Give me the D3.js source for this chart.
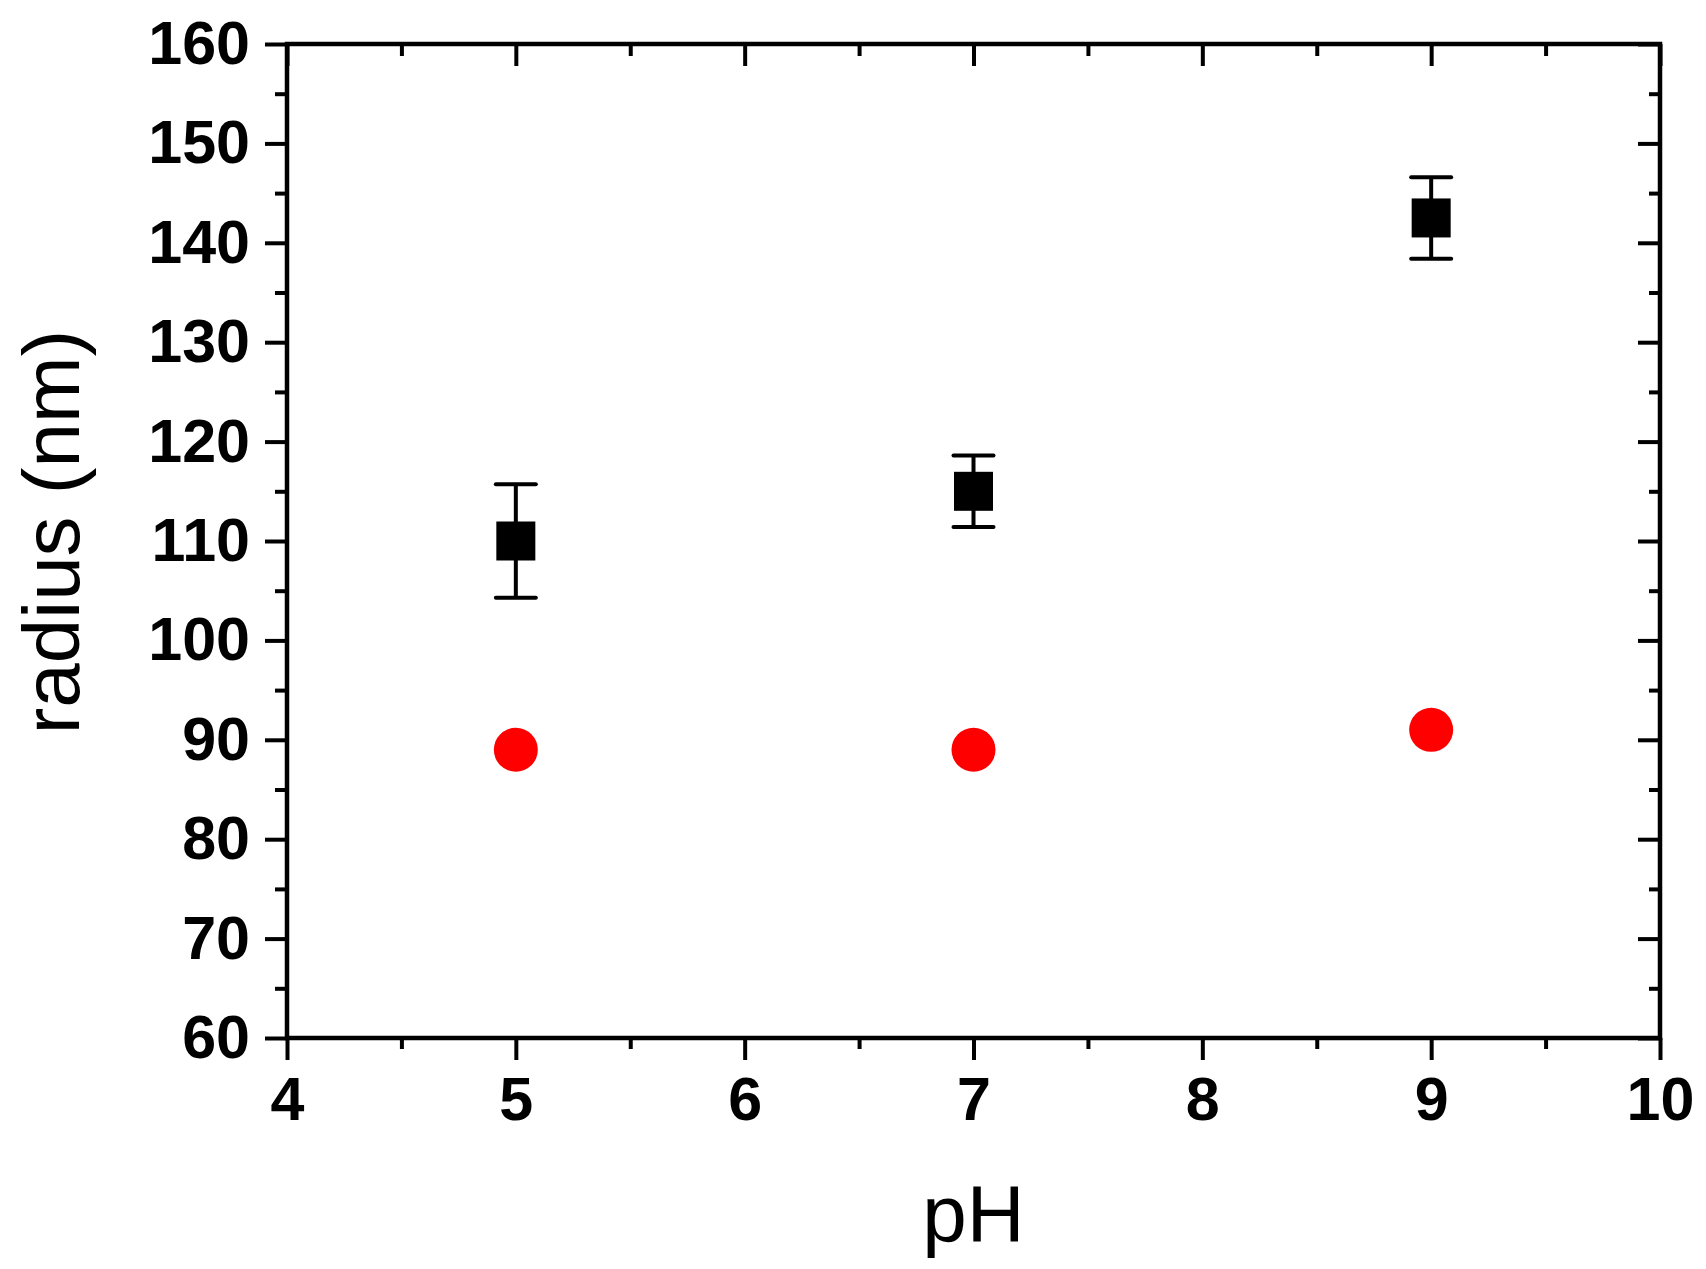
<!DOCTYPE html>
<html>
<head>
<meta charset="utf-8">
<script src="https://cdn.jsdelivr.net/npm/d3@7"></script>
<style>
  body { margin: 0; background: #fff; }
  svg { display: block; }
  .axis text { font-family: Arial, "Liberation Sans", sans-serif; font-weight: bold; font-size: 61px; fill: #000; }
  .axis line { stroke: #000; stroke-width: 4; }
  .axis path { display: none; }
  .title { font-family: Arial, "Liberation Sans", sans-serif; font-size: 80px; fill: #000; }
</style>
</head>
<body>
<div id="chart"></div>
<script>
// data
var ph = [5, 7, 9];
var radiusBlack = [110, 115, 142.5];
var errBlack = [5.7, 3.6, 4.1];
var radiusRed = [89, 89, 91];
var xTicks = [4, 5, 6, 7, 8, 9, 10];
var xMinor = [4.5, 5.5, 6.5, 7.5, 8.5, 9.5];
var yTicks = [60, 70, 80, 90, 100, 110, 120, 130, 140, 150, 160];
var yMinor = [65, 75, 85, 95, 105, 115, 125, 135, 145, 155];

var W = 1706, H = 1269;
var pL = 287, pR = 1660, pT = 44, pB = 1038;

var x = d3.scaleLinear().domain([4, 10]).range([pL, pR]);
var y = d3.scaleLinear().domain([60, 160]).range([pB, pT]);

var svg = d3.select("#chart").append("svg")
    .attr("width", W)
    .attr("height", H);

// bottom axis (outer ticks, labels)
svg.append("g").attr("class", "axis")
    .attr("transform", "translate(0," + pB + ")")
    .call(d3.axisBottom(x).tickValues(xTicks).tickSize(22).tickPadding(17).tickFormat(d3.format("d")));
svg.append("g").attr("class", "axis")
    .attr("transform", "translate(0," + pB + ")")
    .call(d3.axisBottom(x).tickValues(xMinor).tickSize(11).tickFormat(""));

// top axis (inner ticks, no labels)
svg.append("g").attr("class", "axis")
    .attr("transform", "translate(0," + pT + ")")
    .call(d3.axisBottom(x).tickValues(xTicks).tickSize(22).tickFormat(""));
svg.append("g").attr("class", "axis")
    .attr("transform", "translate(0," + pT + ")")
    .call(d3.axisBottom(x).tickValues(xMinor).tickSize(12).tickFormat(""));

// left axis
svg.append("g").attr("class", "axis")
    .attr("transform", "translate(" + pL + ",0)")
    .call(d3.axisLeft(y).tickValues(yTicks).tickSize(22).tickPadding(15).tickFormat(d3.format("d")));
svg.append("g").attr("class", "axis")
    .attr("transform", "translate(" + pL + ",0)")
    .call(d3.axisLeft(y).tickValues(yMinor).tickSize(12).tickFormat(""));

// right axis (inner ticks)
svg.append("g").attr("class", "axis")
    .attr("transform", "translate(" + pR + ",0)")
    .call(d3.axisLeft(y).tickValues(yTicks).tickSize(22).tickFormat(""));
svg.append("g").attr("class", "axis")
    .attr("transform", "translate(" + pR + ",0)")
    .call(d3.axisLeft(y).tickValues(yMinor).tickSize(11).tickFormat(""));

// frame
svg.append("rect")
    .attr("x", pL).attr("y", pT)
    .attr("width", pR - pL).attr("height", pB - pT)
    .attr("fill", "none").attr("stroke", "#000").attr("stroke-width", 4.5);

// error bars
var pts = ph.map(function(p, i) { return { x: p, y: radiusBlack[i], e: errBlack[i], r: radiusRed[i] }; });

var eb = svg.append("g").attr("stroke", "#000").attr("stroke-width", 4);
eb.selectAll("line.stem").data(pts).enter().append("line")
    .attr("x1", function(d) { return x(d.x); })
    .attr("x2", function(d) { return x(d.x); })
    .attr("y1", function(d) { return y(d.y + d.e); })
    .attr("y2", function(d) { return y(d.y - d.e); });
eb.selectAll("line.capT").data(pts).enter().append("line")
    .attr("stroke-linecap", "round")
    .attr("x1", function(d) { return x(d.x) - 20; })
    .attr("x2", function(d) { return x(d.x) + 20; })
    .attr("y1", function(d) { return y(d.y + d.e); })
    .attr("y2", function(d) { return y(d.y + d.e); });
eb.selectAll("line.capB").data(pts).enter().append("line")
    .attr("stroke-linecap", "round")
    .attr("x1", function(d) { return x(d.x) - 20; })
    .attr("x2", function(d) { return x(d.x) + 20; })
    .attr("y1", function(d) { return y(d.y - d.e); })
    .attr("y2", function(d) { return y(d.y - d.e); });

// black squares
svg.selectAll("rect.sq").data(pts).enter().append("rect")
    .attr("class", "sq")
    .attr("x", function(d) { return x(d.x) - 19.5; })
    .attr("y", function(d) { return y(d.y) - 19.5; })
    .attr("width", 39).attr("height", 39)
    .attr("fill", "#000");

// red circles
svg.selectAll("circle").data(pts).enter().append("circle")
    .attr("cx", function(d) { return x(d.x); })
    .attr("cy", function(d) { return y(d.r); })
    .attr("r", 22)
    .attr("fill", "#ff0000");

// axis titles
svg.append("text").attr("class", "title")
    .attr("x", (pL + pR) / 2)
    .attr("y", 1241)
    .attr("text-anchor", "middle")
    .text("pH");

svg.append("text").attr("class", "title")
    .attr("transform", "translate(79," + ((pT + pB) / 2 - 9) + ") rotate(-90)")
    .attr("text-anchor", "middle")
    .text("radius (nm)");
</script>
</body>
</html>
